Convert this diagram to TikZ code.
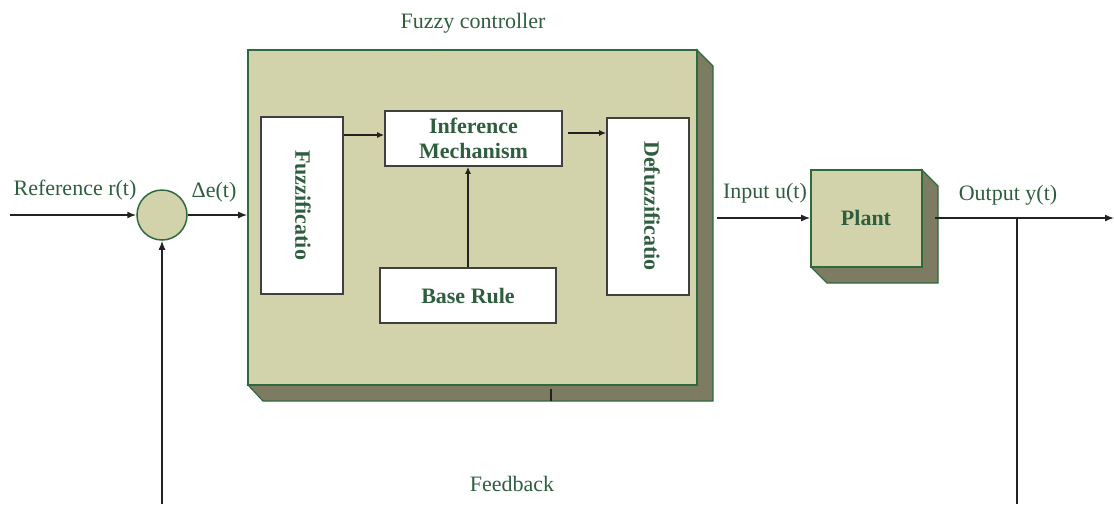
\documentclass[tikz,border=0pt]{standalone}
\usepackage{fontspec}
\setmainfont{Liberation Serif}
\usetikzlibrary{arrows.meta}
\definecolor{face}{HTML}{D3D3AB}
\definecolor{depth}{HTML}{7D7C62}
\definecolor{edge}{HTML}{2F6A3F}
\definecolor{txt}{HTML}{2E5E3E}
\definecolor{wire}{HTML}{222222}
\tikzset{
  lbl/.style={text=txt, font=\fontsize{22}{24}\selectfont, inner sep=0pt},
  bl/.style={text=txt, font=\fontsize{22}{24}\selectfont\bfseries, inner sep=0pt, align=center},
  face3d/.style={draw=edge, fill=face, line width=1.6pt, inner sep=0pt},
  depth3d/.style={draw=edge, fill=depth, line width=1.2pt},
  wbox/.style={draw=black!75, fill=white, line width=1.8pt, inner sep=0pt},
  wire/.style={draw=wire, line width=1.5pt},
  arr/.style={wire, -{Latex[length=9pt,width=7pt]}},
}
\begin{document}
\begin{tikzpicture}[x=1pt,y=-1pt]
\useasboundingbox (0,0) rectangle (1114,504);
% main fuzzy controller box
\path[depth3d] (697,50) -- (713,66) -- (713,401) -- (263,401) -- (248,385) -- (697,385) -- cycle;
\node[face3d, minimum width=449pt, minimum height=335pt] (fc) at (472.5,217.5) {};
\draw[wire, line width=1.2pt] (551,389) -- (551,401);
\node[lbl] (fctitle) at (473,23) {Fuzzy controller};
% inner blocks
\node[wbox, minimum width=82pt, minimum height=177pt] (fuzz) at (302,205.5) {};
\node[bl, rotate=-90] (fuzzt) at (303,205) {Fuzzificatio};
\node[wbox, minimum width=177pt, minimum height=55pt] (inf) at (473.5,138.5) {};
\node[bl, font=\fontsize{22}{25}\selectfont\bfseries] (inft) at (473.5,138.5) {Inference\\Mechanism};
\node[wbox, minimum width=176pt, minimum height=55pt] (base) at (468,295.5) {};
\node[bl] (baset) at (468,296) {Base Rule};
\node[wbox, minimum width=82pt, minimum height=177pt] (defuzz) at (648,206.5) {};
\node[bl, rotate=-90] (defuzzt) at (652,206) {Defuzzificatio};
% inner arrows
\draw[arr, line width=1.2pt, -{Latex[length=7pt,width=6pt]}] (fuzz.east |- 0,135) -- (inf.west |- 0,135);
\draw[arr, line width=1.2pt, -{Latex[length=7pt,width=6pt]}] (568,133) -- (defuzz.west |- 0,133);
\draw[arr, line width=1.2pt, -{Latex[length=7pt,width=6pt]}] (base.north) -- (base.north |- inf.south);
% summing junction
\node[draw=edge, fill=face, line width=1.5pt, circle, minimum size=50pt, inner sep=0pt] (sum) at (162,215) {};
\coordinate (refin) at (10,215);
\draw[arr] (refin) -- (sum.west);
\node[lbl] (reft) at (75,190) {Reference r(t)};
\draw[arr] (sum.east) -- (fc.west |- sum.east);
\node[lbl] (det) at (214,192) {Δe(t)};
% plant
\path[depth3d] (922,170) -- (938,186) -- (938,283) -- (827,283) -- (811,267) -- (922,267) -- cycle;
\node[face3d, minimum width=111pt, minimum height=97pt] (plant) at (866.5,218.5) {};
\node[bl] (plantt) at (866,218) {Plant};
\coordinate (fcout) at (717,218);
\draw[arr] (fcout) -- (plant.west |- fcout);
\node[lbl] (inpt) at (765,193) {Input u(t)};
\coordinate (plout) at (935,218);
\coordinate (yend) at (1114,218);
\draw[arr] (plout) -- (yend);
\node[lbl] (outt) at (1008,195) {Output y(t)};
% feedback
\coordinate (jn) at (1017,218);
\coordinate (fbr) at (1017,504);
\draw[wire] (jn) -- (fbr);
\coordinate (fbl) at (162,504);
\draw[arr] (fbl) -- (sum.south);
\node[lbl] (fbt) at (512,484) {Feedback};
\end{tikzpicture}
\end{document}
